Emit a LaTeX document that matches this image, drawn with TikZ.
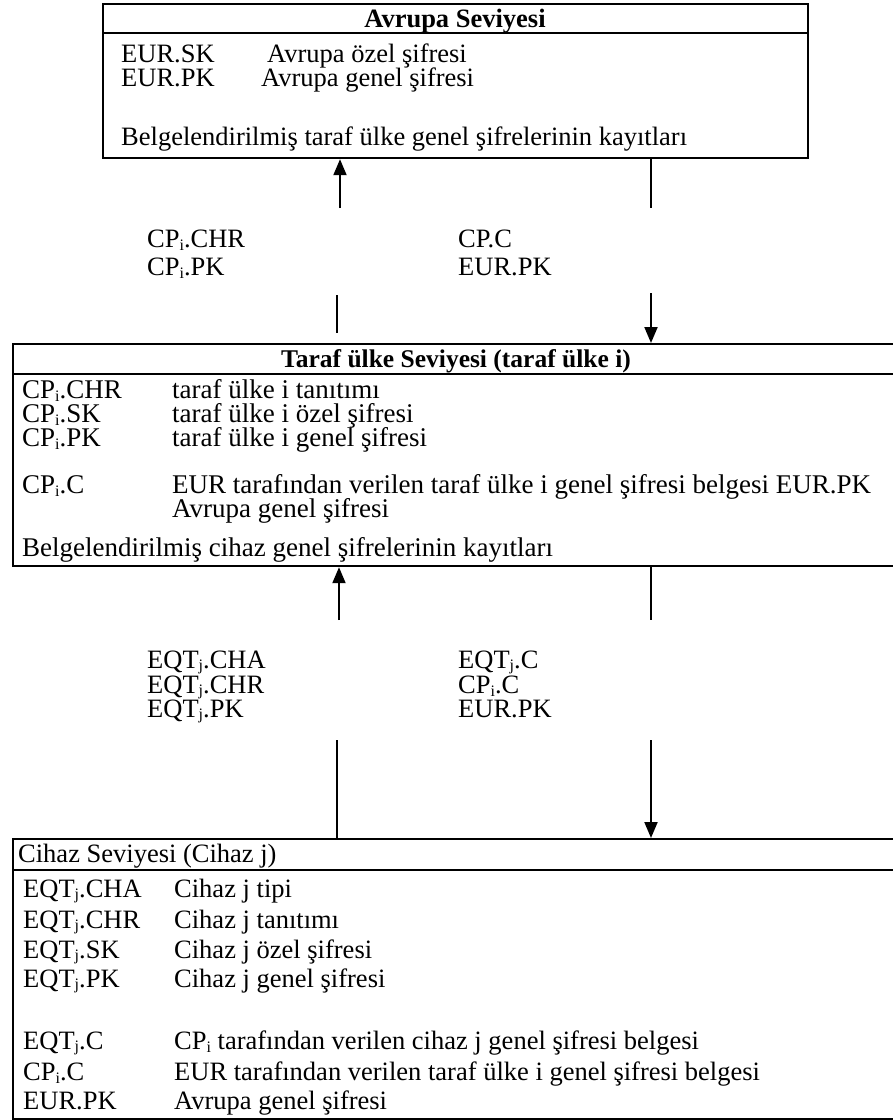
\documentclass[tikz,border=0pt]{standalone}
\usepackage{fontspec}
\setmainfont{Liberation Serif}
\usetikzlibrary{arrows.meta}
% small lowered indices i and j
\newcommand{\sbi}{\raisebox{-3pt}{\fontsize{16}{16}\selectfont i}}
\newcommand{\sbj}{\raisebox{-2.5pt}{\fontsize{16}{16}\selectfont j}}
\begin{document}
\begin{tikzpicture}[x=1pt,y=-1pt,
  txt/.style={anchor=base west, inner sep=0pt, text height=18pt, text depth=4pt,
    font=\fontsize{26.5}{28}\selectfont},
  txtm/.style={txt, font=\fontsize{27}{28}\selectfont},
  ttl/.style={anchor=base, inner sep=0pt, text height=18pt, text depth=4pt,
    font=\fontsize{26.5}{28}\selectfont\bfseries},
  ttlm/.style={ttl, font=\fontsize{25.5}{28}\selectfont\bfseries},
  levelbox/.style={draw, line width=2.2pt, inner sep=0pt, anchor=north west},
  rule/.style={line width=2.2pt},
  link/.style={line width=2pt},
  thinlink/.style={line width=1.5pt},
  arr/.style={line width=2pt, -{Triangle[width=13pt,length=16pt]}}]
\useasboundingbox (0,0) rectangle (893,1120);
\clip (0,0) rectangle (893,1120);

% --- European level ---
\node[levelbox, minimum width=705pt, minimum height=154pt] (eur) at (102,3) {};
\draw[rule] (102,33) -- (807,33);
\node[ttl] (eurT) at (455,27) {Avrupa Seviyesi};
\node[txt] (eurSK) at (121,62) {EUR.SK};
\node[txt] (eurSKd) at (267,62) {Avrupa özel şifresi};
\node[txt] (eurPK) at (121,86) {EUR.PK};
\node[txt] (eurPKd) at (261,86) {Avrupa genel şifresi};
\node[txt] (eurRec) at (121,145) {Belgelendirilmiş taraf ülke genel şifrelerinin kayıtları};

% --- exchange between European and member state level ---
\coordinate (u1) at (340,208);
\coordinate (d1a) at (651,208);
\coordinate (u1b) at (337,295);
\coordinate (u1c) at (337,333);
\coordinate (d1b) at (651,293);
\node[txt] (x1a) at (147,247) {CP\sbi.CHR};
\node[txt] (x1b) at (147,275) {CP\sbi.PK};
\node[txt] (x1c) at (458,247) {CP.C};
\node[txt] (x1d) at (458,275) {EUR.PK};

% --- member state level ---
\node[levelbox, minimum width=970pt, minimum height=222pt] (cp) at (12,343) {};
\draw[rule] (12,374) -- (982,374);
\node[ttlm] (cpT) at (456,367) {Taraf ülke Seviyesi (taraf ülke i)};
\node[txtm] (cp1) at (22,398) {CP\sbi.CHR};
\node[txtm] (cp1d) at (172,398) {taraf ülke i tanıtımı};
\node[txtm] (cp2) at (22,422) {CP\sbi.SK};
\node[txtm] (cp2d) at (172,422) {taraf ülke i özel şifresi};
\node[txtm] (cp3) at (22,446) {CP\sbi.PK};
\node[txtm] (cp3d) at (172,446) {taraf ülke i genel şifresi};
\node[txtm] (cp4) at (22,493) {CP\sbi.C};
\node[txtm] (cp4d) at (172,493) {EUR tarafından verilen taraf ülke i genel şifresi belgesi EUR.PK};
\node[txtm] (cp5d) at (172,517) {Avrupa genel şifresi};
\node[txtm] (cpRec) at (22,556) {Belgelendirilmiş cihaz genel şifrelerinin kayıtları};

% --- exchange between member state and equipment level ---
\coordinate (u2) at (339,620);
\coordinate (d2a) at (651,620);
\coordinate (u2b) at (337,740);
\coordinate (d2b) at (651,740);
\node[txt] (x2a) at (147,668) {EQT\sbj.CHA};
\node[txt] (x2b) at (147,693) {EQT\sbj.CHR};
\node[txt] (x2c) at (147,717) {EQT\sbj.PK};
\node[txt] (x2d) at (458,668) {EQT\sbj.C};
\node[txt] (x2e) at (458,693) {CP\sbi.C};
\node[txt] (x2f) at (458,717) {EUR.PK};

% --- equipment level ---
\node[levelbox, minimum width=970pt, minimum height=280pt] (eq) at (12,838) {};
\draw[rule] (12,870) -- (982,870);
\node[txt] (eqT) at (18,862) {Cihaz Seviyesi (Cihaz j)};
\node[txt] (eq1) at (23,897) {EQT\sbj.CHA};
\node[txt] (eq1d) at (174,897) {Cihaz j tipi};
\node[txt] (eq2) at (23,928) {EQT\sbj.CHR};
\node[txt] (eq2d) at (174,928) {Cihaz j tanıtımı};
\node[txt] (eq3) at (23,958) {EQT\sbj.SK};
\node[txt] (eq3d) at (174,958) {Cihaz j özel şifresi};
\node[txt] (eq4) at (23,987) {EQT\sbj.PK};
\node[txt] (eq4d) at (174,987) {Cihaz j genel şifresi};
\node[txt] (eq5) at (23,1049) {EQT\sbj.C};
\node[txt] (eq5d) at (174,1049) {CP\sbi{} tarafından verilen cihaz j genel şifresi belgesi};
\node[txt] (eq6) at (23,1080) {CP\sbi.C};
\node[txt] (eq6d) at (174,1080) {EUR tarafından verilen taraf ülke i genel şifresi belgesi};
\node[txt] (eq7) at (23,1109) {EUR.PK};
\node[txt] (eq7d) at (174,1109) {Avrupa genel şifresi};

% --- connectors ---
\draw[arr] (u1) -- (u1 |- eur.south);
\draw[link] (d1a |- eur.south) -- (d1a);
\draw[thinlink] (u1b) -- (u1c);
\draw[arr] (d1b) -- (d1b |- cp.north);
\draw[arr] (u2) -- (u2 |- cp.south);
\draw[link] (d2a |- cp.south) -- (d2a);
\draw[thinlink] (u2b) -- (u2b |- eq.north);
\draw[arr] (d2b) -- (d2b |- eq.north);
\end{tikzpicture}
\end{document}
